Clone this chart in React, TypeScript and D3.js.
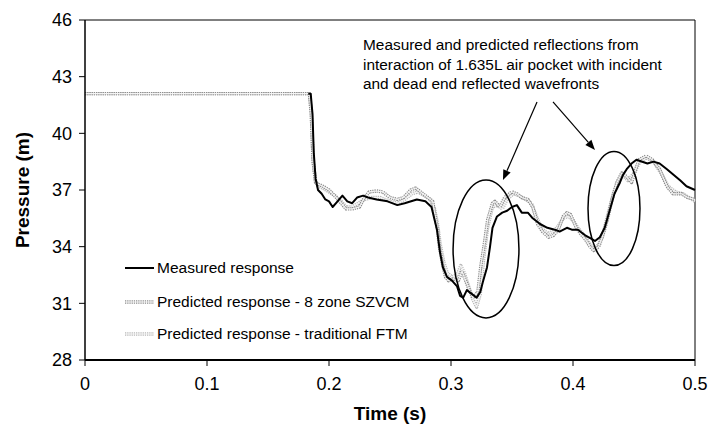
import React from "react";
import * as d3 from "d3";

const measuredTime = [0.183, 0.185, 0.1865, 0.1875, 0.189, 0.191, 0.194, 0.197, 0.2, 0.203, 0.207, 0.211, 0.215, 0.219, 0.223, 0.228, 0.232, 0.239, 0.248, 0.256, 0.262, 0.272, 0.279, 0.284, 0.2885, 0.291, 0.2934, 0.2967, 0.3008, 0.305, 0.3074, 0.31, 0.313, 0.317, 0.321, 0.324, 0.326, 0.3295, 0.332, 0.334, 0.3377, 0.342, 0.346, 0.35, 0.354, 0.358, 0.363, 0.367, 0.373, 0.379, 0.385, 0.389, 0.395, 0.399, 0.404, 0.41, 0.4156, 0.418, 0.422, 0.426, 0.43, 0.434, 0.4385, 0.441, 0.444, 0.448, 0.452, 0.461, 0.466, 0.471, 0.477, 0.488, 0.493, 0.5];
const measuredPressure = [42.1, 42.1, 41.0, 39.0, 37.6, 37.0, 36.8, 36.5, 36.4, 36.1, 36.4, 36.7, 36.4, 36.3, 36.6, 36.7, 36.6, 36.5, 36.4, 36.2, 36.3, 36.5, 36.4, 36.1, 34.9, 33.7, 32.9, 32.4, 32.2, 31.9, 31.4, 31.3, 31.7, 31.5, 31.3, 31.6, 32.1, 32.9, 34.0, 35.0, 35.6, 35.8, 35.9, 36.1, 36.2, 35.8, 35.8, 35.5, 35.2, 35.0, 34.9, 34.8, 35.0, 34.9, 34.9, 34.6, 34.4, 34.3, 34.5, 35.0, 35.9, 36.8, 37.4, 37.8, 38.1, 38.4, 38.6, 38.4, 38.5, 38.4, 38.1, 37.5, 37.2, 37.0];

const szvcmTime = [0, 0.184, 0.1855, 0.187, 0.189, 0.191, 0.195, 0.2, 0.206, 0.21, 0.214, 0.219, 0.225, 0.229, 0.233, 0.239, 0.244, 0.25, 0.256, 0.261, 0.267, 0.271, 0.277, 0.281, 0.285, 0.2865, 0.289, 0.2905, 0.293, 0.2955, 0.298, 0.302, 0.306, 0.309, 0.312, 0.315, 0.318, 0.322, 0.3245, 0.327, 0.33, 0.334, 0.336, 0.34, 0.344, 0.35, 0.354, 0.358, 0.363, 0.367, 0.371, 0.375, 0.38, 0.384, 0.388, 0.392, 0.395, 0.398, 0.402, 0.406, 0.41, 0.414, 0.417, 0.421, 0.424, 0.428, 0.432, 0.436, 0.44, 0.444, 0.448, 0.454, 0.46, 0.465, 0.471, 0.477, 0.482, 0.489, 0.494, 0.5];
const szvcmPressure = [42.1, 42.1, 41.0, 38.5, 37.4, 37.3, 37.2, 37.0, 36.6, 36.3, 36.0, 36.0, 36.1, 36.6, 36.9, 36.95, 36.9, 36.6, 36.5, 36.6, 37.0, 37.1, 36.8, 36.6, 36.4, 35.8, 34.9, 34.0, 33.1, 32.4, 32.2, 32.3, 32.2, 32.7, 32.2, 31.7, 31.3, 31.6, 33.0, 34.0, 35.4, 36.3, 36.4, 36.1, 36.6, 36.9, 36.8, 36.6, 36.5, 36.1, 35.2, 34.8, 34.5, 34.6, 34.9, 35.6, 35.8, 35.7, 35.1, 34.7, 34.4, 34.0, 33.8, 34.0, 34.5, 35.4, 36.5, 37.4, 37.9, 37.7, 37.4, 38.6, 38.8, 38.6, 38.1, 37.2, 36.8, 36.8, 36.6, 36.5];

const ftmTime = [0, 0.184, 0.1855, 0.187, 0.189, 0.191, 0.195, 0.2, 0.205, 0.21, 0.214, 0.219, 0.224, 0.229, 0.235, 0.242, 0.25, 0.256, 0.262, 0.268, 0.273, 0.278, 0.283, 0.2865, 0.289, 0.291, 0.294, 0.297, 0.301, 0.305, 0.308, 0.311, 0.315, 0.318, 0.321, 0.324, 0.327, 0.33, 0.334, 0.338, 0.342, 0.346, 0.351, 0.356, 0.361, 0.366, 0.37, 0.374, 0.379, 0.384, 0.388, 0.392, 0.396, 0.4, 0.404, 0.409, 0.413, 0.417, 0.421, 0.425, 0.429, 0.433, 0.437, 0.441, 0.445, 0.45, 0.455, 0.46, 0.466, 0.472, 0.478, 0.484, 0.49, 0.495, 0.5];
const ftmPressure = [42.1, 42.1, 41.0, 38.5, 37.5, 37.2, 37.1, 36.9, 36.7, 36.4, 36.1, 36.1, 36.3, 36.5, 36.6, 36.6, 36.4, 36.3, 36.5, 36.8, 36.9, 36.7, 36.5, 36.0, 35.2, 34.2, 33.2, 32.6, 32.4, 32.5, 33.0, 32.6, 31.8, 31.2, 30.8, 31.5, 33.5, 35.0, 36.1, 36.2, 36.0, 36.5, 36.8, 36.7, 36.5, 36.3, 35.6, 35.0, 34.7, 34.8, 35.1, 35.5, 35.6, 35.4, 35.0, 34.6, 34.2, 33.9, 34.1, 34.8, 35.8, 36.8, 37.5, 37.8, 37.5, 37.9, 38.5, 38.7, 38.5, 37.9, 37.2, 36.9, 36.8, 36.6, 36.4];

const xTicks = [0, 0.1, 0.2, 0.3, 0.4, 0.5];
const xTickLabels = ["0", "0.1", "0.2", "0.3", "0.4", "0.5"];
const yTicks = [28, 31, 34, 37, 40, 43, 46];

const seriesNames = [
  "Measured response",
  "Predicted response - 8 zone SZVCM",
  "Predicted response - traditional FTM",
];

const annotationLines = [
  "Measured and predicted reflections from",
  "interaction of 1.635L air pocket with incident",
  "and dead end reflected wavefronts",
];
// ellipses: centre time, centre pressure, half-width (s), half-height (m)
const ellipseCentreT = [0.3287, 0.4336];
const ellipseCentreP = [33.88, 36.02];
const ellipseHalfT = [0.027, 0.0213];
const ellipseHalfP = [3.65, 3.02];
// arrows: start/end in data units
const arrowStartT = [0.3705, 0.3836];
const arrowStartP = [41.66, 41.66];
const arrowEndT = [0.3426, 0.418];
const arrowEndP = [37.53, 39.12];

const W = 712;
const H = 430;
const FONT = "'Liberation Sans', Arial, Helvetica, sans-serif";

export default function App() {
  const left = 85, right = 695, top = 20, bottom = 360;
  const x = d3.scaleLinear().domain([0, 0.5]).range([left, right]);
  const y = d3.scaleLinear().domain([28, 46]).range([bottom, top]);

  const mk = (ts: number[], ps: number[]) =>
    d3.line<number>().x((_, i) => x(ts[i])).y((p) => y(p))(ps) || "";

  const measuredPath = mk(measuredTime, measuredPressure);
  const szvcmPath = mk(szvcmTime, szvcmPressure);
  const ftmPath = mk(ftmTime, ftmPressure);

  const legendY = [268, 302, 334];
  const lx0 = 125, lx1 = 154;

  const arrows = arrowStartT.map((_, i) => {
    const x1 = x(arrowStartT[i]), y1 = y(arrowStartP[i]);
    const x2 = x(arrowEndT[i]), y2 = y(arrowEndP[i]);
    const ang = Math.atan2(y2 - y1, x2 - x1);
    const L = 10, w = 4;
    const bx = x2 - L * Math.cos(ang), by = y2 - L * Math.sin(ang);
    const px = -Math.sin(ang) * w, py = Math.cos(ang) * w;
    return { x1, y1, bx, by, x2, y2, head: `M${x2},${y2}L${bx + px},${by + py}L${bx - px},${by - py}Z` };
  });

  const grayTube = (d: string, outer: string, key: string) => (
    <g key={key}>
      <path d={d} fill="none" stroke={outer} strokeWidth={3.4} strokeDasharray="1.3 0.9" strokeLinejoin="round" />
      <path d={d} fill="none" stroke="#f4f4f4" strokeWidth={1.1} strokeLinejoin="round" />
    </g>
  );

  return (
    <svg width={W} height={H} style={{ position: "absolute", left: 0, top: 0, background: "#fff" }} fontFamily={FONT}>
      <rect x={0} y={0} width={W} height={H} fill="#fff" />
      {/* frame */}
      <line x1={left} x2={right} y1={top} y2={top} stroke="#000" strokeWidth={1} />
      <line x1={right} x2={right} y1={top} y2={bottom} stroke="#000" strokeWidth={1} />

      {/* series */}
      {grayTube(ftmPath, "#b8b8b8", "ftm")}
      {grayTube(szvcmPath, "#8c8c8c", "szv")}
      <path d={measuredPath} fill="none" stroke="#000" strokeWidth={2} strokeLinejoin="round" />

      {/* axes */}
      <line x1={left} x2={left} y1={top} y2={bottom} stroke="#000" strokeWidth={1.5} />
      <line x1={left} x2={right} y1={bottom} y2={bottom} stroke="#000" strokeWidth={2} />
      {yTicks.map((t) => (
        <g key={"y" + t}>
          <line x1={left - 6} x2={left} y1={y(t)} y2={y(t)} stroke="#000" strokeWidth={1} />
          <text x={left - 13} y={y(t)} dy="0.36em" textAnchor="end" fontSize={18}>{t}</text>
        </g>
      ))}
      {xTicks.map((t, i) => (
        <g key={"x" + t}>
          <line x1={x(t)} x2={x(t)} y1={bottom} y2={bottom + 6} stroke="#000" strokeWidth={1} />
          <text x={x(t)} y={bottom + 30} textAnchor="middle" fontSize={18}>{xTickLabels[i]}</text>
        </g>
      ))}
      <text x={(left + right) / 2} y={420} textAnchor="middle" fontSize={19} fontWeight="bold">Time (s)</text>
      <text transform={`translate(29,${(top + bottom) / 2}) rotate(-90)`} textAnchor="middle" fontSize={19} fontWeight="bold">Pressure (m)</text>

      {/* legend */}
      <line x1={lx0} x2={lx1} y1={legendY[0]} y2={legendY[0]} stroke="#000" strokeWidth={2} />
      {grayTube(`M${lx0},${legendY[1]}H${lx1}`, "#8c8c8c", "l1")}
      {grayTube(`M${lx0},${legendY[2]}H${lx1}`, "#b8b8b8", "l2")}
      {seriesNames.map((s, i) => (
        <text key={s} x={157} y={legendY[i]} dy="0.35em" fontSize={15.5}>{s}</text>
      ))}

      {/* annotation */}
      {annotationLines.map((s, i) => (
        <text key={s} x={363} y={50 + i * 19.5} fontSize={15.4}>{s}</text>
      ))}
      {ellipseCentreT.map((_, i) => (
        <ellipse key={"e" + i}
          cx={x(ellipseCentreT[i])} cy={y(ellipseCentreP[i])}
          rx={x(ellipseCentreT[i] + ellipseHalfT[i]) - x(ellipseCentreT[i])}
          ry={y(ellipseCentreP[i] - ellipseHalfP[i]) - y(ellipseCentreP[i])}
          fill="none" stroke="#000" strokeWidth={1.5} />
      ))}
      {arrows.map((a, i) => (
        <g key={"a" + i}>
          <line x1={a.x1} y1={a.y1} x2={a.bx} y2={a.by} stroke="#000" strokeWidth={1.2} />
          <path d={a.head} fill="#000" />
        </g>
      ))}
    </svg>
  );
}
